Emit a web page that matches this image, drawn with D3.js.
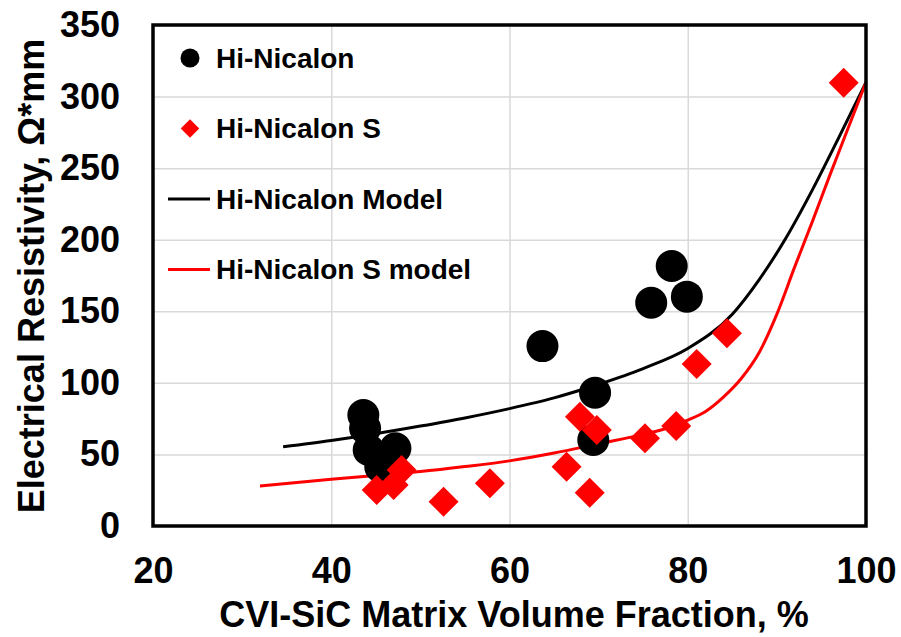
<!DOCTYPE html>
<html>
<head>
<meta charset="utf-8">
<script src="https://cdn.jsdelivr.net/npm/d3@7"></script>
<style>
  body { margin: 0; background: #fff; }
  text { font-family: "Liberation Sans", Arial, sans-serif; font-weight: bold; fill: #000; }
</style>
</head>
<body>
<div id="chart"></div>
<script>
// measured data, Hi-Nicalon
var hnX = [43.6, 43.8, 44.2, 47.2, 45.5, 63.7, 69.6, 69.4, 75.9, 78.2, 79.9];
var hnY = [77.5, 68.3, 53.1, 54.3, 41.4, 125.7, 93.1, 60.1, 156, 181.6, 160.2];

// measured data, Hi-Nicalon S
var hnsX = [45.1, 47.0, 47.9, 52.6, 57.8, 66.4, 67.9, 69.8, 69.0, 75.2, 78.7, 81.0, 84.4, 97.5];
var hnsY = [25.1, 28.6, 39.1, 17.0, 29.8, 41.4, 76.4, 67.1, 23.3, 61.3, 69.9, 113.2, 134.6, 309.7];

// model curves
var hnModelX = [34.6, 40, 45, 50, 55, 60, 65, 70, 75, 80, 85, 88, 91, 94, 97, 100];
var hnModelY = [55.4, 59.8, 64.5, 69.8, 75.5, 82, 89.5, 99, 110, 124, 148, 172, 201, 235, 272, 310];
var hnsModelX = [32, 40, 45, 50, 55, 60, 65, 70, 75, 78, 80, 82, 84, 86, 88, 90, 92, 94, 96, 98, 100];
var hnsModelY = [28, 32.6, 35.3, 38, 41.5, 45.5, 51, 57.5, 64, 69, 74, 80, 90, 103, 121, 148, 181, 213, 246, 278, 310];

var xTicks = [20, 40, 60, 80, 100];
var yTicks = [0, 50, 100, 150, 200, 250, 300, 350];

var legendNames = ['Hi-Nicalon', 'Hi-Nicalon S', 'Hi-Nicalon Model', 'Hi-Nicalon S model'];

var width = 901, height = 637;
var margin = {left: 153, right: 35, top: 25, bottom: 111};
var w = width - margin.left - margin.right,
    h = height - margin.top - margin.bottom;

var x = d3.scaleLinear().domain([20, 100]).range([0, w]);
var y = d3.scaleLinear().domain([0, 350]).range([h, 0]);

var svg = d3.select('#chart').append('svg')
  .attr('width', width)
  .attr('height', height);

svg.append('rect').attr('width', width).attr('height', height).attr('fill', '#fff');

var g = svg.append('g')
  .attr('transform', 'translate(' + margin.left + ',' + margin.top + ')');

// gridlines
g.append('g')
  .attr('class', 'grid')
  .call(d3.axisLeft(y).tickValues(yTicks.slice(1, -1)).tickSize(-w).tickFormat(''))
  .call(function(s) { s.select('.domain').remove(); })
  .selectAll('line').attr('stroke', '#d9d9d9').attr('stroke-width', 1.5);

g.append('g')
  .attr('class', 'grid')
  .attr('transform', 'translate(0,' + h + ')')
  .call(d3.axisBottom(x).tickValues(xTicks.slice(1, -1)).tickSize(-h).tickFormat(''))
  .call(function(s) { s.select('.domain').remove(); })
  .selectAll('line').attr('stroke', '#d9d9d9').attr('stroke-width', 1.5);

// axes labels
var xAxis = g.append('g')
  .attr('transform', 'translate(0,' + h + ')')
  .call(d3.axisBottom(x).tickValues(xTicks).tickSize(0).tickPadding(31));
xAxis.select('.domain').remove();
xAxis.selectAll('text').style('font-size', '36px').attr('fill', '#000');

var yAxis = g.append('g')
  .call(d3.axisLeft(y).tickValues(yTicks).tickSize(0).tickPadding(33));
yAxis.select('.domain').remove();
yAxis.selectAll('text').style('font-size', '36px').attr('fill', '#000');

// model lines
var line = d3.line()
  .x(function(d) { return x(d[0]); })
  .y(function(d) { return y(d[1]); })
  .curve(d3.curveMonotoneX);

g.append('path')
  .datum(d3.zip(hnModelX, hnModelY))
  .attr('d', line)
  .attr('fill', 'none')
  .attr('stroke', '#000')
  .attr('stroke-width', 3);

g.append('path')
  .datum(d3.zip(hnsModelX, hnsModelY))
  .attr('d', line)
  .attr('fill', 'none')
  .attr('stroke', '#ff0000')
  .attr('stroke-width', 3);

// points
g.selectAll('.hn')
  .data(d3.zip(hnX, hnY))
  .enter().append('circle')
  .attr('class', 'hn')
  .attr('cx', function(d) { return x(d[0]); })
  .attr('cy', function(d) { return y(d[1]); })
  .attr('r', 16)
  .attr('fill', '#000');

var diamond = d3.symbol().type(d3.symbolSquare).size(450);

g.selectAll('.hns')
  .data(d3.zip(hnsX, hnsY))
  .enter().append('path')
  .attr('class', 'hns')
  .attr('d', diamond)
  .attr('transform', function(d) { return 'translate(' + x(d[0]) + ',' + y(d[1]) + ') rotate(45)'; })
  .attr('fill', '#ff0000');

// plot border
g.append('rect')
  .attr('width', w)
  .attr('height', h)
  .attr('fill', 'none')
  .attr('stroke', '#000')
  .attr('stroke-width', 3.5);

// legend
var legend = svg.append('g').attr('transform', 'translate(168,58)');
var rowH = 70.5;

legend.append('circle').attr('cx', 22).attr('cy', 0).attr('r', 9.5).attr('fill', '#000');
legend.append('path')
  .attr('d', d3.symbol().type(d3.symbolSquare).size(170))
  .attr('transform', 'translate(22,' + rowH + ') rotate(45)')
  .attr('fill', '#ff0000');
legend.append('line').attr('x1', 0).attr('x2', 42)
  .attr('y1', rowH * 2).attr('y2', rowH * 2)
  .attr('stroke', '#000').attr('stroke-width', 3);
legend.append('line').attr('x1', 0).attr('x2', 42)
  .attr('y1', rowH * 3).attr('y2', rowH * 3)
  .attr('stroke', '#ff0000').attr('stroke-width', 3);

legend.selectAll('.lt')
  .data(legendNames)
  .enter().append('text')
  .attr('class', 'lt')
  .attr('x', 48)
  .attr('y', function(d, i) { return i * rowH; })
  .attr('dy', '0.35em')
  .style('font-size', '28px')
  .text(function(d) { return d; });

// axis titles
svg.append('text')
  .attr('x', 514)
  .attr('y', 627)
  .attr('text-anchor', 'middle')
  .style('font-size', '36px')
  .text('CVI-SiC Matrix Volume Fraction, %');

svg.append('text')
  .attr('transform', 'translate(44,' + 276 + ') rotate(-90)')
  .attr('text-anchor', 'middle')
  .style('font-size', '36px')
  .text('Electrical Resistivity, Ω*mm');
</script>
</body>
</html>
